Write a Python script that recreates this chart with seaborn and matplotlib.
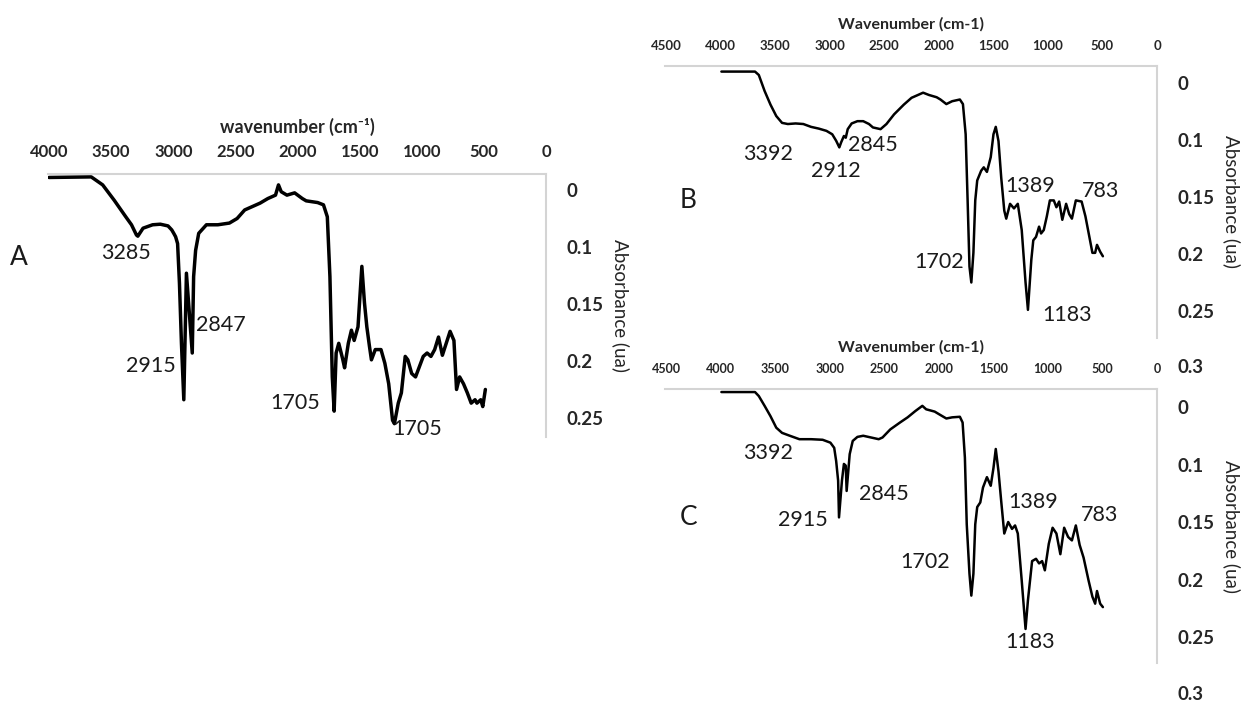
import numpy as np
import pandas as pd
import seaborn as sns
import matplotlib.pyplot as plt

sns.set_style("white")
plt.rcParams['font.family'] = ['Lato', 'DejaVu Sans']

# spectrum A (wavenumber, absorbance)
wn_a = [4000, 3660, 3568, 3475, 3382, 3336, 3296, 3285, 3243, 3166, 3104, 3042, 3012, 2996, 2981, 2965,
        2950, 2934, 2915, 2894, 2847, 2836, 2820, 2795, 2733, 2641, 2548, 2486, 2425, 2363, 2301, 2239,
        2177, 2153, 2131, 2085, 2023, 1961, 1930, 1838, 1791, 1760, 1739, 1720, 1705, 1689, 1668, 1637,
        1621, 1591, 1566, 1544, 1513, 1498, 1482, 1461, 1442, 1421, 1405, 1374, 1328, 1297, 1266, 1235,
        1220, 1189, 1164, 1133, 1112, 1081, 1050, 1019, 988, 957, 926, 896, 865, 834, 803, 772, 741, 720,
        695, 664, 633, 602, 571, 556, 525, 509, 488]
abs_a = [-0.022, -0.023, -0.009, 0.018, 0.047, 0.061, 0.079, 0.081, 0.067, 0.061, 0.060, 0.063, 0.070,
         0.076, 0.082, 0.094, 0.132, 0.1845, 0.234, 0.123, 0.193, 0.126, 0.103, 0.076, 0.061, 0.061, 0.058,
         0.050, 0.035, 0.029, 0.023, 0.015, 0.009, -0.009, 0.003, 0.009, 0.005, 0.015, 0.019, 0.022, 0.026,
         0.047, 0.126, 0.214, 0.244, 0.193, 0.1845, 0.198, 0.206, 0.1845, 0.173, 0.182, 0.170, 0.144, 0.117,
         0.149, 0.170, 0.187, 0.199, 0.190, 0.190, 0.202, 0.220, 0.252, 0.255, 0.237, 0.228, 0.196, 0.199,
         0.211, 0.214, 0.205, 0.196, 0.193, 0.196, 0.190, 0.179, 0.195, 0.1845, 0.174, 0.182, 0.225, 0.214,
         0.220, 0.228, 0.237, 0.234, 0.237, 0.234, 0.240, 0.225]

# spectrum B
wn_b = [3993, 3685, 3650, 3597, 3543, 3490, 3437, 3384, 3313, 3242, 3171, 3101, 3030, 2977, 2941, 2912,
        2895, 2870, 2853, 2835, 2799, 2746, 2693, 2640, 2604, 2534, 2480, 2410, 2321, 2250, 2179, 2144,
        2091, 2020, 1985, 1931, 1878, 1807, 1779, 1754, 1736, 1719, 1702, 1683, 1666, 1648, 1612, 1588,
        1559, 1524, 1499, 1478, 1453, 1428, 1400, 1382, 1347, 1311, 1276, 1240, 1205, 1183, 1152, 1134,
        1109, 1081, 1063, 1038, 1010, 982, 946, 922, 897, 868, 833, 805, 780, 744, 691, 656, 620, 592,
        567, 550, 521, 496]
abs_b = [-0.020, -0.020, -0.014, 0.014, 0.038, 0.058, 0.070, 0.072, 0.071, 0.072, 0.077, 0.080, 0.084,
         0.090, 0.1007, 0.1065, 0.102, 0.093, 0.096, 0.081, 0.071, 0.067, 0.067, 0.072, 0.078, 0.081, 0.072,
         0.055, 0.038, 0.026, 0.020, 0.017, 0.021, 0.025, 0.029, 0.037, 0.032, 0.029, 0.037, 0.090, 0.153,
         0.211, 0.225, 0.199, 0.153, 0.1355, 0.127, 0.124, 0.128, 0.115, 0.090, 0.077, 0.101, 0.133, 0.162,
         0.169, 0.156, 0.160, 0.156, 0.179, 0.225, 0.249, 0.205, 0.188, 0.185, 0.176, 0.182, 0.179, 0.167,
         0.153, 0.153, 0.159, 0.154, 0.170, 0.156, 0.165, 0.169, 0.153, 0.154, 0.167, 0.185, 0.199, 0.199,
         0.192, 0.198, 0.202]

# spectrum C
wn_c = [3993, 3685, 3650, 3597, 3543, 3490, 3437, 3366, 3278, 3171, 3065, 2994, 2959, 2941, 2923, 2915,
        2888, 2870, 2853, 2845, 2817, 2789, 2746, 2693, 2622, 2551, 2516, 2445, 2356, 2286, 2215, 2151,
        2116, 2038, 1985, 1931, 1878, 1807, 1782, 1761, 1744, 1719, 1702, 1683, 1666, 1648, 1620, 1595,
        1559, 1524, 1499, 1478, 1453, 1428, 1400, 1364, 1329, 1301, 1276, 1240, 1205, 1183, 1145, 1109,
        1081, 1053, 1028, 992, 957, 922, 886, 851, 815, 780, 744, 709, 673, 627, 592, 567, 550, 521, 496]
abs_c = [-0.026, -0.026, -0.019, -0.002, 0.016, 0.036, 0.045, 0.050, 0.056, 0.056, 0.057, 0.062, 0.071,
         0.094, 0.114, 0.146, 0.114, 0.099, 0.101, 0.123, 0.082, 0.059, 0.052, 0.050, 0.053, 0.056, 0.053,
         0.039, 0.027, 0.018, 0.007, -0.002, 0.004, 0.008, 0.014, 0.020, 0.018, 0.017, 0.027, 0.088, 0.152,
         0.195, 0.214, 0.195, 0.152, 0.137, 0.133, 0.120, 0.111, 0.1185, 0.103, 0.073, 0.106, 0.132, 0.160,
         0.150, 0.156, 0.153, 0.160, 0.201, 0.243, 0.218, 0.184, 0.182, 0.186, 0.184, 0.192, 0.169, 0.155,
         0.160, 0.178, 0.155, 0.163, 0.166, 0.153, 0.170, 0.181, 0.201, 0.215, 0.221, 0.210, 0.221, 0.224]

# peak labels (text, wavenumber, absorbance where the label sits)
labels_a = [("3285", 3380, 0.105), ("2847", 2616, 0.168), ("2915", 3179, 0.204),
            ("1705", 2020, 0.237), ("1705", 1038, 0.260)]
labels_b = [("3392", 3565, 0.112), ("2912", 2942, 0.127), ("2845", 2603, 0.104), ("1702", 1998, 0.207),
            ("1389", 1159, 0.140), ("783", 513, 0.145), ("1183", 824, 0.2535)]
labels_c = [("3392", 3565, 0.080), ("2915", 3244, 0.148), ("2845", 2502, 0.126), ("1702", 2126, 0.185),
            ("1389", 1136, 0.133), ("783", 531, 0.144), ("1183", 1159, 0.254)]

xticks_a = [4000, 3500, 3000, 2500, 2000, 1500, 1000, 500, 0]
xticks_bc = [4500, 4000, 3500, 3000, 2500, 2000, 1500, 1000, 500, 0]
yticks = [0, 0.1, 0.15, 0.2, 0.25]
ytick_labels = ["0", "0.1", "0.15", "0.2", "0.25"]


# the absorbance axis is not linear: 0 -> 0.1 takes the same room as 0.1 -> 0.15
def fwd(v):
    v = np.asarray(v, dtype=float)
    return np.where(v < 0.1, v * 10, 1 + (v - 0.1) * 20)


def inv(i):
    i = np.asarray(i, dtype=float)
    return np.where(i < 1, i / 10, 0.1 + (i - 1) / 20)


W, H = 1247, 702
fig = plt.figure(figsize=(W / 100, H / 100), dpi=100)


def px_axes(left, top, right, bottom):
    return fig.add_axes([left / W, 1 - bottom / H, (right - left) / W, (bottom - top) / H])


def draw_panel(ax, wn, ab, xlim, ylim, xticks, xlabel, xlfs, xfs, lw, peaks, letter, letter_pos, extra03):
    df = pd.DataFrame({"wn": wn, "abs": ab})
    sns.lineplot(data=df, x="wn", y="abs", ax=ax, color="black", linewidth=lw, sort=False, estimator=None)
    ax.set_yscale("function", functions=(fwd, inv))
    ax.set_xlim(*xlim)
    ax.set_ylim(*ylim)
    ax.xaxis.tick_top()
    ax.xaxis.set_label_position("top")
    ax.set_xticks(xticks)
    ax.set_xticklabels([str(t) for t in xticks], fontweight="bold", fontsize=xfs)
    ax.set_xlabel(xlabel, fontweight="bold", fontsize=xlfs, labelpad=8)
    ax.yaxis.tick_right()
    ax.yaxis.set_label_position("right")
    ax.set_yticks(yticks)
    ax.set_yticklabels(ytick_labels, fontweight="bold", fontsize=13.5)
    ax.set_ylabel("Absorbance (ua)", fontsize=13.5, rotation=270, labelpad=19)
    ax.tick_params(axis="x", length=0, pad=10)
    ax.tick_params(axis="y", length=0, pad=15)
    for side in ["left", "bottom"]:
        ax.spines[side].set_visible(False)
    for side in ["top", "right"]:
        ax.spines[side].set_visible(True)
        ax.spines[side].set_color("#d4d4d4")
        ax.spines[side].set_linewidth(1.5)
    for txt, x, y in peaks:
        ax.text(x, y, txt, fontsize=15.5, ha="center", va="center", color="#1a1a1a")
    ax.text(letter_pos[0], letter_pos[1], letter, fontsize=19, ha="center", va="center",
            color="#1a1a1a", clip_on=False)
    if extra03:
        ax.annotate("0.3", xy=(1, 0.3), xycoords=("axes fraction", "data"), xytext=(15, 0),
                    textcoords="offset points", ha="left", va="center", fontsize=13.5,
                    fontweight="bold", annotation_clip=False)


ax_a = px_axes(48, 174, 546, 437)
draw_panel(ax_a, wn_a, abs_a, (4008, 0), (0.2667, -0.0281), xticks_a, "wavenumber (cm\u207b\u00b9)", 13, 12, 2.5,
           labels_a, "A", (4241, 0.109), False)

ax_b = px_axes(665, 66, 1157, 338)
draw_panel(ax_b, wn_b, abs_b, (4510, 0), (0.2737, -0.0298), xticks_bc, "Wavenumber (cm-1)", 11.5, 9.5, 1.8,
           labels_b, "B", (4298, 0.153), True)

ax_c = px_axes(665, 389, 1157, 663)
draw_panel(ax_c, wn_c, abs_c, (4510, 0), (0.2726, -0.0313), xticks_bc, "Wavenumber (cm-1)", 11.5, 9, 1.8,
           labels_c, "C", (4298, 0.146), True)

fig.savefig("out.png", dpi=100, facecolor="white")
